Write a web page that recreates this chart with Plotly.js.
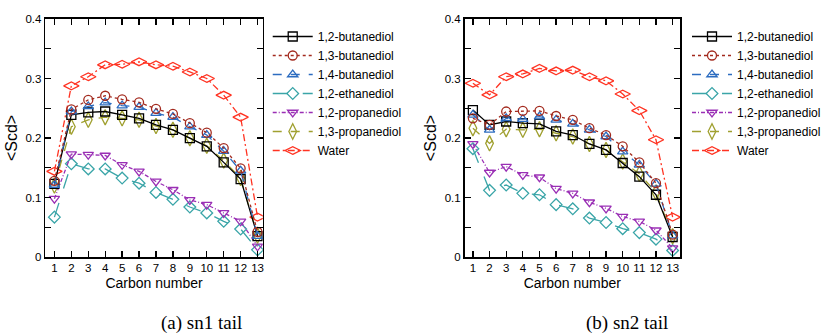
<!DOCTYPE html>
<html><head><meta charset="utf-8">
<script src="https://cdn.plot.ly/plotly-3.0.1.min.js"></script>
<style>html,body{margin:0;padding:0;background:#fff}#plot{width:826px;height:334px}</style>
</head><body><div id="plot"></div>
<script>
const carbon = [1,2,3,4,5,6,7,8,9,10,11,12,13];
const seriesNames = ['1,2-butanediol','1,3-butanediol','1,4-butanediol','1,2-ethanediol','1,2-propanediol','1,3-propanediol','Water'];

// sn1 tail
const sn1_12but = [0.123,0.239,0.243,0.2445,0.239,0.233,0.222,0.2137,0.1997,0.186,0.159,0.131,0.035];
const sn1_13but = [0.128,0.248,0.264,0.271,0.265,0.260,0.249,0.2405,0.225,0.209,0.183,0.149,0.042];
const sn1_14but = [0.121,0.2445,0.253,0.2596,0.2545,0.252,0.2417,0.235,0.219,0.205,0.178,0.145,0.035];
const sn1_12eth = [0.067,0.1566,0.148,0.148,0.1326,0.124,0.1085,0.097,0.084,0.074,0.060,0.047,0.012];
const sn1_12pro = [0.098,0.173,0.172,0.1706,0.155,0.144,0.127,0.113,0.096,0.088,0.074,0.060,0.018];
const sn1_13pro = [0.120,0.219,0.2305,0.235,0.233,0.2305,0.220,0.2137,0.1997,0.187,0.162,0.1326,0.036];
const sn1_water = [0.144,0.2876,0.303,0.323,0.324,0.328,0.323,0.3206,0.311,0.300,0.272,0.235,0.067];

// sn2 tail
const sn2_12but = [0.247,0.222,0.2277,0.225,0.2238,0.211,0.205,0.190,0.180,0.158,0.135,0.1046,0.0336];
const sn2_13but = [0.233,0.222,0.2445,0.2456,0.2456,0.237,0.2305,0.2165,0.205,0.186,0.159,0.124,0.0375];
const sn2_14but = [0.239,0.2137,0.233,0.2316,0.236,0.2305,0.2238,0.2137,0.2025,0.177,0.155,0.123,0.036];
const sn2_12eth = [0.182,0.112,0.121,0.107,0.1046,0.088,0.081,0.0655,0.058,0.0476,0.041,0.030,0.011];
const sn2_12pro = [0.190,0.142,0.152,0.138,0.134,0.115,0.107,0.092,0.0817,0.068,0.060,0.045,0.015];
const sn2_13pro = [0.2165,0.191,0.2148,0.2137,0.2148,0.208,0.2025,0.190,0.180,0.1606,0.140,0.1085,0.035];
const sn2_water = [0.292,0.2725,0.303,0.3077,0.317,0.3127,0.314,0.303,0.296,0.274,0.246,0.197,0.067];

const xTickVals = carbon;
const yTickVals = [0,0.1,0.2,0.3,0.4];
const yTickText = ['0','0.1','0.2','0.3','0.4'];

const styles = [
  {color:'#000000', dash:'solid', symbol:'square-open', size:9},
  {color:'#a32a1e', dash:'dot', symbol:'circle-open', size:9},
  {color:'#2c6cc0', dash:'dash', symbol:'triangle-up-open', size:9},
  {color:'#3aa5a8', dash:'longdash', symbol:'diamond-open', size:9},
  {color:'#9a2fb5', dash:'4px,2px,1px,2px', symbol:'triangle-down-open', size:9},
  {color:'#a0a030', dash:'dash', symbol:'diamond-tall-open', size:11},
  {color:'#ff3322', dash:'7px,3px,2px,3px', symbol:'diamond-wide-open', size:11}
];

const sn1 = [sn1_12but,sn1_13but,sn1_14but,sn1_12eth,sn1_12pro,sn1_13pro,sn1_water];
const sn2 = [sn2_12but,sn2_13but,sn2_14but,sn2_12eth,sn2_12pro,sn2_13pro,sn2_water];
const order = [6,3,4,5,0,2,1]; // draw order (back to front)

const traces = [];
function add(sets, xa, ya, leg){
  const arr = [];
  for (let i=0;i<sets.length;i++){
    const s = styles[i];
    arr.push({
      x: carbon, y: sets[i], xaxis: xa, yaxis: ya, legend: leg,
      name: seriesNames[i], type:'scatter', mode:'lines+markers',
      line:{color:s.color, dash:s.dash, width:1.3},
      marker:{symbol:s.symbol, size:s.size, color:s.color, line:{width:1.3, color:s.color}},
      legendrank: i+1
    });
  }
  order.forEach(k=>traces.push(arr[k]));
}
add(sn1,'x','y','legend');
add(sn2,'x2','y2','legend2');

const fontSans = 'Liberation Sans, Arial, sans-serif';
function xax(domain, range, anchor){
  return {domain:domain, range:range, anchor:anchor, tickmode:'array', tickvals:xTickVals,
    ticks:'inside', ticklen:6, tickwidth:1.3, tickcolor:'#000', mirror:'ticks',
    showline:true, linecolor:'#000', linewidth:1.6, showgrid:false, zeroline:false,
    tickfont:{family:fontSans, size:11.5, color:'#000'},
    title:{text:'Carbon number', font:{family:fontSans, size:14, color:'#000'}, standoff:5}};
}
function yax(domain, anchor){
  return {domain:domain, range:[0,0.4], anchor:anchor, tickmode:'array', tickvals:yTickVals, ticktext:yTickText,
    ticks:'inside', ticklen:6, tickwidth:1.3, tickcolor:'#000', mirror:'ticks',
    minor:{dtick:0.05, ticks:'inside', ticklen:6, tickwidth:1.3, tickcolor:'#000', showgrid:false},
    showline:true, linecolor:'#000', linewidth:1.6, showgrid:false, zeroline:false,
    tickfont:{family:fontSans, size:11.5, color:'#000'},
    title:{text:'<Scd>', font:{family:fontSans, size:16, color:'#000'}, standoff:4}};
}
const H = 334, W = 826;
const yd = [1-257/H, 1-19/H];
const layout = {
  width:W, height:H, margin:{l:0,r:0,t:0,b:0}, paper_bgcolor:'#fff', plot_bgcolor:'#fff',
  showlegend:true,
  xaxis: xax([46/W, 267/W], [0.46,13.31], 'y'),
  yaxis: yax(yd, 'x'),
  xaxis2: xax([472/W, 691/W], [0.5,13.45], 'y2'),
  yaxis2: yax(yd, 'x2'),
  legend:{x:272/W, y:1-22/H, xanchor:'left', yanchor:'top', bgcolor:'rgba(0,0,0,0)', itemwidth:40,
    font:{family:fontSans, size:12, color:'#000'}, traceorder:'normal', tracegroupgap:0},
  legend2:{x:698/W, y:1-22/H, xanchor:'left', yanchor:'top', bgcolor:'rgba(0,0,0,0)', itemwidth:40,
    font:{family:fontSans, size:12, color:'#000'}, traceorder:'normal', tracegroupgap:0},
  annotations:[
    {text:'(a) sn1 tail', xref:'paper', yref:'paper', x:205/W, y:1-323/H, xanchor:'center', yanchor:'middle', showarrow:false,
     font:{family:'Liberation Serif, DejaVu Serif, serif', size:19, color:'#000'}},
    {text:'(b) sn2 tail', xref:'paper', yref:'paper', x:637/W, y:1-323/H, xanchor:'center', yanchor:'middle', showarrow:false,
     font:{family:'Liberation Serif, DejaVu Serif, serif', size:19, color:'#000'}}
  ]
};
Plotly.newPlot('plot', traces, layout, {staticPlot:true, displayModeBar:false});
</script></body></html>
